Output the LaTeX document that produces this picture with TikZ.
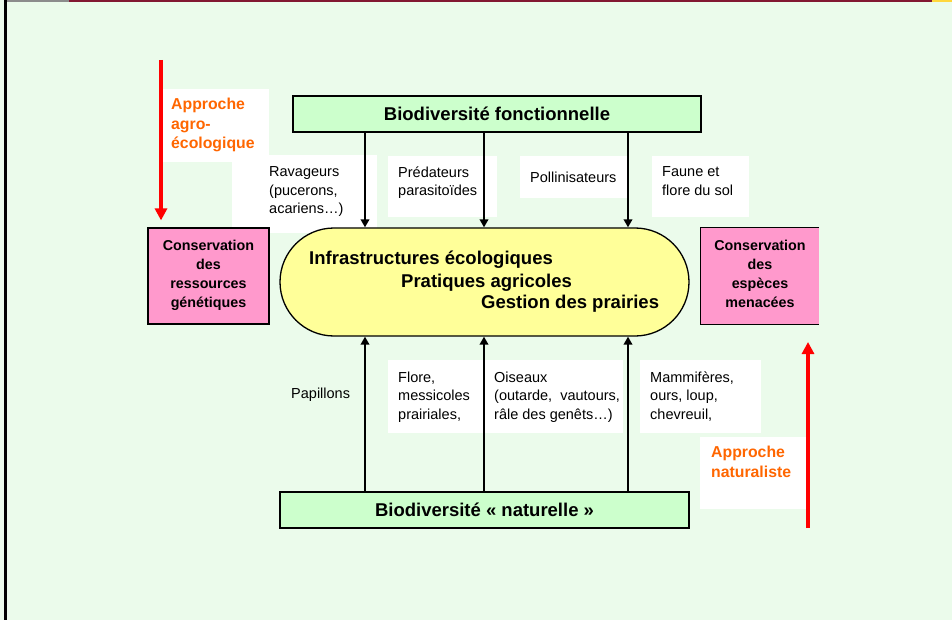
\documentclass[tikz,border=0pt]{standalone}
\usepackage{fontspec}
\setmainfont{Liberation Sans}
\usetikzlibrary{arrows.meta}
\definecolor{bgc}{RGB}{235,251,235}
\definecolor{topgray}{RGB}{140,140,140}
\definecolor{topred}{RGB}{130,24,50}
\definecolor{topyellow}{RGB}{255,215,60}
\definecolor{boxgreen}{RGB}{204,255,204}
\definecolor{boxpink}{RGB}{255,153,204}
\definecolor{boxyellow}{RGB}{255,255,153}
\definecolor{orangetxt}{RGB}{255,102,0}
\begin{document}
\begin{tikzpicture}[x=1pt,y=-1pt,
  gbox/.style={draw=black, fill=boxgreen, line width=1.2pt, inner sep=0pt,
    font=\bfseries\fontsize{18.5}{21}\selectfont},
  pbox/.style={fill=boxpink, inner sep=0pt, minimum width=#1, minimum height=96pt},
  stadium/.style={draw=black, fill=boxyellow, line width=1.3pt, inner sep=0pt,
    rounded corners=54pt, minimum width=409pt, minimum height=108pt},
  stext/.style={font=\bfseries\fontsize{18.5}{21}\selectfont, inner sep=0pt, anchor=base west},
  ptext/.style={font=\bfseries\fontsize{14.3}{19}\selectfont, align=center, inner sep=0pt, anchor=north},
  lab/.style={font=\fontsize{14.5}{18.5}\selectfont, align=left, inner sep=0pt, anchor=north west},
  org/.style={font=\bfseries\fontsize{15.8}{19.5}\selectfont, text=orangetxt, align=left, inner sep=0pt, anchor=north west},
  barrow/.style={draw=black, line width=2pt, -{Triangle[width=8.5pt,length=8pt]}},
  rarrow/.style={draw=red, line width=4pt, -{Triangle[width=12pt,length=12pt]}}
]
\useasboundingbox (0,0) rectangle (952,620);
% background and frame
\fill[bgc] (0,0) rectangle (952,620);
\fill[topgray] (7,0) rectangle (69,2);
\fill[topred] (69,0) rectangle (932,2);
\fill[topyellow] (932,0) rectangle (952,2);
\fill[black] (4,0) rectangle (7,620);
% white label backgrounds
\fill[white] (163,89) rectangle (269,162);
\fill[white] (232,155) rectangle (377,233);
\fill[white] (388,156) rectangle (497,217);
\fill[white] (520,156) rectangle (627,198);
\fill[white] (652,156) rectangle (749,217);
\fill[white] (388,360) rectangle (623,433);
\fill[white] (640,360) rectangle (761,433);
\fill[white] (700,437) rectangle (806,509);
% main nodes
\node[gbox, minimum width=408pt, minimum height=36pt] (top) at (497,114) {Biodiversité fonctionnelle};
\node[stadium] (stad) at (484.5,282) {};
\node[gbox, minimum width=409pt, minimum height=36pt] (bot) at (484.5,510) {Biodiversité «~naturelle~»};
\node[pbox=121pt, draw=black, line width=1.2pt] (lpink) at (208.5,276) {};
\node[pbox=118pt] (rpink) at (760,276) {};
\draw[line width=1.2pt] (rpink.north east) -- (rpink.north west) -- (rpink.south west) -- (rpink.south east);
% texts in shapes
\node[stext] (s1) at (309,265) {Infrastructures écologiques};
\node[stext] (s2) at (401,287) {Pratiques agricoles};
\node[stext] (s3) at (481,308) {Gestion des prairies};
\node[ptext] (lpt) at (208.5,239.5) {Conservation\\des\\ressources\\génétiques};
\node[ptext] (rpt) at (760,239.8) {Conservation\\des\\espèces\\menacées};
% connectors
\coordinate (xa) at (365,0);
\coordinate (xb) at (484,0);
\coordinate (xc) at (628,0);
\foreach \c in {xa,xb,xc}{
  \draw[barrow] (top.south -| \c) -- (stad.north -| \c);
  \draw[barrow] (bot.north -| \c) -- (stad.south -| \c);
}
\coordinate (ra) at (161,60);
\draw[rarrow, shorten >=7pt] (ra) -- (ra |- lpink.north);
\coordinate (rb) at (808,528);
\coordinate (rc) at (808,342);
\draw[rarrow] (rb) -- (rc);
% labels
\node[lab] (l1) at (269,166.5) {Ravageurs\\(pucerons,\\acariens…)};
\node[lab] (l2) at (398,166.5) {Prédateurs\\parasitoïdes};
\node[lab] (l3) at (530,171.5) {Pollinisateurs};
\node[lab] (l4) at (662,166.5) {Faune et\\flore du sol};
\node[lab] (l5) at (291,387.5) {Papillons};
\node[lab] (l6) at (398,371.5) {Flore,\\messicoles\\prairiales,};
\node[lab] (l7) at (494,371.5) {Oiseaux\\(outarde,~ vautours,\\râle des genêts…)};
\node[lab] (l8) at (650,371.5) {Mammifères,\\ours, loup,\\chevreuil,};
\node[org] (o1) at (171,98) {Approche\\agro-\\écologique};
\node[org] (o2) at (711,446) {Approche\\naturaliste};
\end{tikzpicture}
\end{document}
